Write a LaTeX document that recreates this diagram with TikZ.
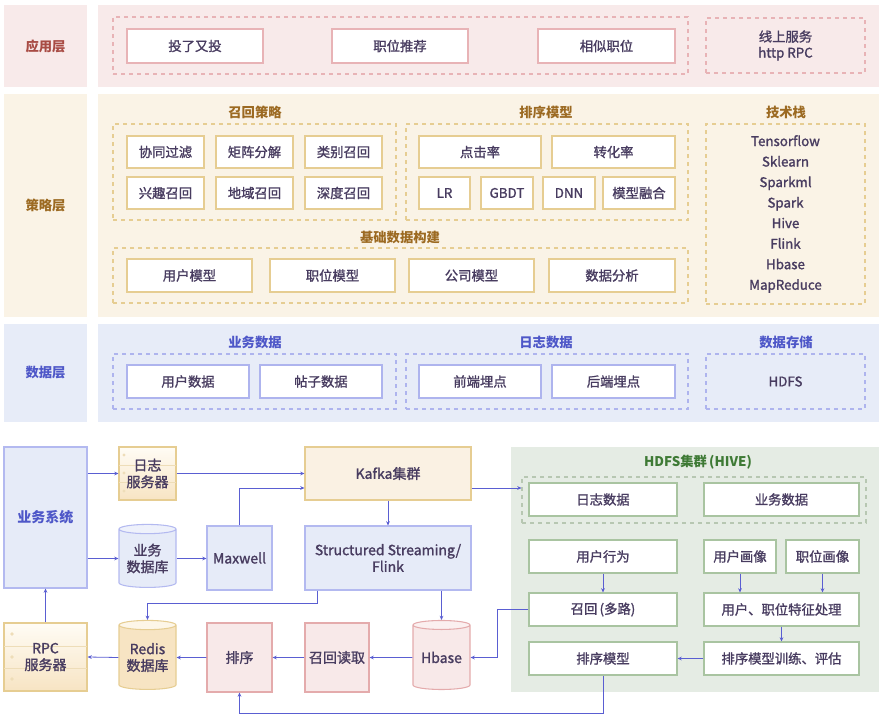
\documentclass[tikz,border=0pt]{standalone}
\usepackage{fontspec}
\setmainfont{Noto Sans CJK SC}[UprightFeatures={FakeBold=1.4}]
\usepackage{tikz}
\usetikzlibrary{shapes.geometric,arrows.meta,calc}

\definecolor{appbg}{HTML}{F8EAEA}
\definecolor{appline}{HTML}{E8B3B6}
\definecolor{apptxt}{HTML}{A84B44}
\definecolor{strbg}{HTML}{FAF3E6}
\definecolor{strline}{HTML}{E6CD92}
\definecolor{strtxt}{HTML}{9C6A22}
\definecolor{datbg}{HTML}{E7ECF8}
\definecolor{datline}{HTML}{AEB4EE}
\definecolor{dattxt}{HTML}{4E57C8}
\definecolor{hdfsbg}{HTML}{E5ECE4}
\definecolor{hdfsline}{HTML}{A9C4A1}
\definecolor{hdfsdash}{HTML}{B7C7B2}
\definecolor{hdfstxt}{HTML}{3E7A35}
\definecolor{nodetxt}{HTML}{483C60}
\definecolor{flowc}{HTML}{5A5ED2}
\definecolor{pinkfill}{HTML}{F8E9E9}
\definecolor{pinkend}{HTML}{FBF0F0}
\definecolor{pinkline}{HTML}{E4ABAC}
\definecolor{bluefill}{HTML}{E6EBF8}
\definecolor{blueend}{HTML}{EEF1FB}
\definecolor{blueline}{HTML}{B3B9F0}
\definecolor{srvtop}{HTML}{FFFCF5}
\definecolor{srvbot}{HTML}{F7E4C3}
\definecolor{srvend}{HTML}{FDF6E8}
\definecolor{srvdot}{HTML}{EEDDB8}
\definecolor{kafkafill}{HTML}{FAF1E3}

\tikzset{
	sz/.style 2 args={minimum width=#1*0.75pt,minimum height=#2*0.75pt},
	layer/.style={fill=#1,inner sep=0pt,font=\fontsize{10}{12}\selectfont\bfseries},
	card/.style={draw=#1,fill=white,text=nodetxt,inner sep=0pt,line width=0.8pt},
	grp/.style={draw=#1,line width=0.8pt,dash pattern=on 3pt off 3pt,inner sep=0pt},
	ttl/.style={text=#1,font=\fontsize{10}{12}\selectfont\bfseries},
	blk/.style 2 args={draw=#1,fill=#2,text=nodetxt,inner sep=0pt,line width=0.8pt,
		align=center,font=\fontsize{10.5}{12.5}\selectfont},
	srv/.style={draw=strline,top color=srvtop,bottom color=srvbot,text=nodetxt,inner sep=0pt,
		line width=0.8pt,align=center,font=\fontsize{10.5}{12.5}\selectfont},
	db/.style n args={3}{cylinder,shape border rotate=90,aspect=0.22,draw=#1,line width=0.8pt,
		cylinder uses custom fill,cylinder body fill=#2,cylinder end fill=#3,
		text=nodetxt,inner sep=0pt,align=center,font=\fontsize{10.5}{12.5}\selectfont},
	flow/.style={->,draw=flowc,line width=0.6pt}
}

\begin{document}
\begin{tikzpicture}[x=0.75pt,y=-0.75pt,font=\fontsize{10}{12}\selectfont,
	>={Stealth[length=3.2pt,width=2.8pt]}]
	\useasboundingbox (0,0) rectangle (886,721);

	% application layer
	\node[layer=appbg,text=apptxt,sz={83}{82}] (app) at (45.5,46) {应用层};
	\fill[appbg] (98,5) rectangle (879,87);
	\node[grp=appline,sz={575}{57}] (appgrp) at (400.5,45.5) {};
	\node[card=appline,sz={136}{34}] (again) at (195,46) {投了又投};
	\node[card=appline,sz={136}{34}] (jobrec) at (400,46) {职位推荐};
	\node[card=appline,sz={137}{34}] (simjob) at (606.5,46) {相似职位};
	\node[grp=appline,text=nodetxt,align=center,sz={159}{55}] (online) at (785.5,45.5) {线上服务\\http RPC};

	% strategy layer
	\node[layer=strbg,text=strtxt,sz={83}{223}] (strat) at (45.5,205.5) {策略层};
	\fill[strbg] (98,94) rectangle (879,317);
	\node[ttl=strtxt] (recttl) at (255,112) {召回策略};
	\node[ttl=strtxt] (rankttl) at (546,112) {排序模型};
	\node[ttl=strtxt] (techttl) at (786,112) {技术栈};
	\node[ttl=strtxt] (basettl) at (400,237) {基础数据构建};
	\node[grp=strline,sz={283}{96}] (recgrp) at (254.5,172) {};
	\node[grp=strline,sz={282}{96}] (rankgrp) at (547,172) {};
	\node[grp=strline,sz={575}{55}] (basegrp) at (400.5,275.5) {};
	% recall boxes
	\node[card=strline,sz={77}{32}] (cf) at (165.5,152) {协同过滤};
	\node[card=strline,sz={77}{32}] (mf) at (254.5,152) {矩阵分解};
	\node[card=strline,sz={77}{32}] (cat) at (343.5,152) {类别召回};
	\node[card=strline,sz={77}{32}] (intr) at (165.5,193) {兴趣召回};
	\node[card=strline,sz={77}{32}] (geo) at (254.5,193) {地域召回};
	\node[card=strline,sz={77}{32}] (deep) at (343.5,193) {深度召回};
	% ranking boxes
	\node[card=strline,sz={122}{32}] (ctr) at (480,152) {点击率};
	\node[card=strline,sz={123}{32}] (cvr) at (613.5,152) {转化率};
	\node[card=strline,sz={51}{32}] (lr) at (444.5,193) {LR};
	\node[card=strline,sz={52}{32}] (gbdt) at (507,193) {GBDT};
	\node[card=strline,sz={52}{32}] (dnn) at (569,193) {DNN};
	\node[card=strline,sz={72}{32}] (fuse) at (639,193) {模型融合};
	% base data boxes
	\node[card=strline,sz={125}{33}] (usrm) at (189.5,275.5) {用户模型};
	\node[card=strline,sz={125}{33}] (jobm) at (332.5,275.5) {职位模型};
	\node[card=strline,sz={125}{33}] (comm) at (471.5,275.5) {公司模型};
	\node[card=strline,sz={126}{33}] (ana) at (612,275.5) {数据分析};
	% tech stack
	\node[grp=strline,text=nodetxt,align=center,sz={159}{180},
		font=\fontsize{10}{15.4}\selectfont] (tech) at (785.5,214)
		{Tensorflow\\Sklearn\\Sparkml\\Spark\\Hive\\Flink\\Hbase\\MapReduce};

	% data layer
	\node[layer=datbg,text=dattxt,sz={83}{98}] (data) at (45.5,373) {数据层};
	\fill[datbg] (98,324) rectangle (879,422);
	\node[ttl=dattxt] (bizttl) at (255,342) {业务数据};
	\node[ttl=dattxt] (logttl) at (546,342) {日志数据};
	\node[ttl=dattxt] (storttl) at (786,342) {数据存储};
	\node[grp=datline,sz={283}{55}] (bizgrp) at (254.5,381.5) {};
	\node[grp=datline,sz={282}{55}] (loggrp) at (547,381.5) {};
	\node[grp=datline,text=nodetxt,sz={159}{55}] (hdfs) at (785.5,381.5) {HDFS};
	\node[card=datline,sz={122}{33}] (usrd) at (188,381.5) {用户数据};
	\node[card=datline,sz={122}{33}] (post) at (321,381.5) {帖子数据};
	\node[card=datline,sz={122}{33}] (front) at (480,381.5) {前端埋点};
	\node[card=datline,sz={123}{33}] (back) at (613.5,381.5) {后端埋点};

	% pipeline
	\node[blk={blueline}{bluefill},sz={83}{141}] (biz) at (45.5,517.5) {\bfseries\textcolor{dattxt}{业务系统}};
	\node[srv,sz={57}{53}] (logsrv) at (147.5,473.5) {};
	\node[db={blueline}{bluefill}{blueend},minimum width=57*0.75pt,minimum height=63*0.75pt] (bizdb) at (147.5,558.5) {业务\\数据库};
	\node[blk={blueline}{bluefill},sz={65}{64}] (maxwell) at (239.5,558) {Maxwell};
	\node[blk={strline}{kafkafill},sz={166}{53}] (kafka) at (388,473.5) {Kafka集群};
	\node[blk={blueline}{bluefill},sz={166}{64}] (ss) at (388,558) {Structured Streaming/\\Flink};
	\node[srv,sz={83}{68}] (rpc) at (45.5,657) {};
	\node[db={strline}{srvbot}{srvend},minimum width=57*0.75pt,minimum height=69*0.75pt] (redis) at (147.5,657.5) {Redis\\数据库};
	\node[blk={pinkline}{pinkfill},sz={65}{69}] (sortn) at (239.5,657.5) {排序};
	\node[blk={pinkline}{pinkfill},sz={64}{69}] (recread) at (337,657.5) {召回读取};
	\node[db={pinkline}{pinkfill}{pinkend},minimum width=57*0.75pt,minimum height=69*0.75pt] (hbase) at (441.5,657.5) {Hbase};
	% server lines and dots
	\draw[srvdot,line width=0.5pt] (119,465) -- (176,465) (119,482) -- (176,482);
	\draw[srvdot,line width=0.5pt] (4,646) -- (87,646) (4,668) -- (87,668);
	\fill[srvdot] (124,455) circle (1.6) (124,473) circle (1.6) (124,491) circle (1.6);
	\fill[srvdot] (12,634) circle (1.8) (12,657) circle (1.8) (12,679) circle (1.8);
	\node[text=nodetxt,align=center,font=\fontsize{10.5}{12.5}\selectfont] (logtxt) at (logsrv) {日志\\服务器};
	\node[text=nodetxt,align=center,font=\fontsize{10.5}{12.5}\selectfont] (rpctxt) at (rpc) {RPC\\服务器};

	% hdfs cluster
	\fill[hdfsbg] (511,447) rectangle (879,692);
	\node[ttl=hdfstxt] (hdfsttl) at (698,462) {HDFS集群\,(HIVE)};
	\node[grp=hdfsdash,sz={344}{46}] (hraw) at (694,500) {};
	\node[card=hdfsline,sz={148}{33}] (hlog) at (603,499.5) {日志数据};
	\node[card=hdfsline,sz={155}{33}] (hbiz) at (781.5,499.5) {业务数据};
	\node[card=hdfsline,sz={148}{33}] (hact) at (603,556.5) {用户行为};
	\node[card=hdfsline,sz={72}{33}] (uport) at (740,556.5) {用户画像};
	\node[card=hdfsline,sz={73}{33}] (jport) at (822.5,556.5) {职位画像};
	\node[card=hdfsline,sz={148}{33}] (hrec) at (603,609.5) {召回\,(多路)};
	\node[card=hdfsline,sz={155}{33}] (feat) at (781.5,609.5) {用户、职位特征处理};
	\node[card=hdfsline,sz={148}{33}] (hrank) at (603,658.5) {排序模型};
	\node[card=hdfsline,sz={155}{33}] (train) at (781.5,658.5) {排序模型训练、评估};

	% connectors
	\draw[flow] (biz.east |- logsrv.west) -- (logsrv.west);
	\draw[flow] (biz.east |- bizdb.west) -- (bizdb.west);
	\draw[flow] (bizdb.east) -- (maxwell.west |- bizdb.east);
	\draw[flow] (logsrv.east) -- (kafka.west |- logsrv.east);
	\draw[flow] (maxwell.north) |- ($(kafka.west)+(0,14.5)$);
	\draw[flow] ($(kafka.east)+(0,14.5)$) coordinate (kout) -- (kout -| hraw.west);
	\draw[flow] (kafka.south) -- (ss.north);
	\draw[flow] ($(ss.south west)+(13,0)$) -- ++(0,13) -| (redis.north);
	\draw[flow] (ss.south -| hbase.north) -- (hbase.north);
	\draw[flow] (hbase.west) -- (recread.east);
	\draw[flow] (recread.west) -- (sortn.east);
	\draw[flow] (sortn.west) -- (redis.east);
	\draw[flow] (redis.west) -- (rpc.east);
	\draw[flow] (rpc.north) -- (biz.south);
	\draw[flow] (hrec.west) -- ++(-31,0) |- (hbase.east);
	\draw[flow] (hrank.south) -- ++(0,37.5) -| (sortn.south);
	\draw[flow] (hact.south) -- (hrec.north);
	\draw[flow] (uport.south) -- (uport.south |- feat.north);
	\draw[flow] (jport.south) -- (jport.south |- feat.north);
	\draw[flow] (feat.south) -- (train.north);
	\draw[flow] (train.west) -- (hrank.east);
\end{tikzpicture}
\end{document}
